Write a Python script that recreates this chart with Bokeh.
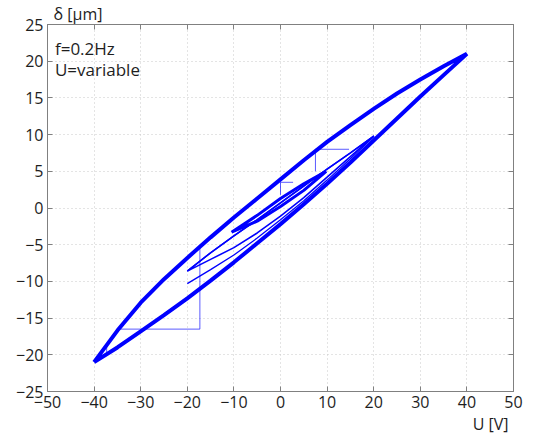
from bokeh.plotting import figure
from bokeh.models import LinearAxis, FixedTicker, Label, Range1d, Title
from bokeh.embed import file_html
from bokeh.resources import INLINE

# ---- data (U in V, delta in um) ----
u40 = [-40, -35, -30, -25, -20, -15, -10, -5, 0, 5, 10, 15, 20, 25, 30, 35, 40]
d40_up = [-21.0, -16.7, -12.9, -9.7, -6.8, -4.0, -1.3, 1.3, 3.9, 6.5, 9.0, 11.3, 13.5, 15.6, 17.5, 19.3, 21.0]
d40_lo = [-21.0, -19.0, -16.8, -14.6, -12.3, -9.9, -7.4, -4.8, -2.2, 0.5, 3.3, 6.2, 9.2, 12.2, 15.2, 18.1, 21.0]

u20 = [-20, -15, -10, -5, 0, 5, 10, 15, 20]
d20_up = [-8.6, -6.1, -3.8, -1.6, 0.7, 3.0, 5.3, 7.5, 9.8]
d20_lo = [-8.6, -7.0, -5.4, -3.4, -1.1, 1.4, 4.2, 7.0, 9.8]
d20b_lo = [-10.3, -8.4, -6.4, -4.1, -1.6, 1.0, 3.8, 6.7, 9.7]

u10 = [-10.5, -5, 0, 5, 9.8]
d10_up = [-3.3, -1.0, 1.3, 3.3, 5.0]
d10_lo = [-3.3, -1.8, 0.2, 2.4, 5.0]

step_a_u = [-34.4, -17.3, -17.3]
step_a_d = [-16.5, -16.5, -5.5]
step_b_u = [-37.3, -37.3]
step_b_d = [-19.7, -18.5]
step_c_u = [14.7, 7.5, 7.5]
step_c_d = [8.0, 8.0, 5.0]
step_d_u = [2.7, 0.0, 0.0]
step_d_d = [3.5, 3.5, 1.8]

x_ticks = [-50, -40, -30, -20, -10, 0, 10, 20, 30, 40, 50]
y_ticks = [-25, -20, -15, -10, -5, 0, 5, 10, 15, 20, 25]

FONT = "Open Sans"
BLUE = "#0000ff"
AXC = "#808080"
TXT = "#1e1e1e"

p = figure(width=530, height=436, x_range=Range1d(-50, 50), y_range=Range1d(-25, 25),
           output_backend="svg", toolbar_location=None,
           min_border_left=47, min_border_right=17, min_border_top=23, min_border_bottom=45)
p.outline_line_color = AXC
p.background_fill_color = "white"
p.border_fill_color = "white"

def minus(v):
    return str(v).replace("-", "\u2212")

for ax in p.xaxis:
    ax.ticker = FixedTicker(ticks=x_ticks)
    ax.major_label_overrides = {v: minus(v) for v in x_ticks}
for ax in p.yaxis:
    ax.ticker = FixedTicker(ticks=y_ticks)
    ax.major_label_overrides = {v: minus(v) for v in y_ticks}

for ax in list(p.xaxis) + list(p.yaxis):
    ax.axis_line_color = AXC
    ax.major_tick_line_color = AXC
    ax.major_tick_in = 5
    ax.major_tick_out = 0
    ax.minor_tick_line_color = None
    ax.major_label_text_font = FONT
    ax.major_label_text_font_size = "16px"
    ax.major_label_text_color = TXT
    ax.major_label_standoff = 4

for loc in ("above", "right"):
    a = LinearAxis(ticker=FixedTicker(ticks=x_ticks if loc == "above" else y_ticks))
    a.axis_line_color = AXC
    a.major_tick_line_color = AXC
    a.major_tick_in = 5
    a.major_tick_out = 0
    a.minor_tick_line_color = None
    a.major_label_text_font_size = "0px"
    a.major_label_text_color = None
    a.major_label_standoff = 0
    p.add_layout(a, loc)

p.xgrid.ticker = FixedTicker(ticks=x_ticks)
p.ygrid.ticker = FixedTicker(ticks=y_ticks)
for g in (p.xgrid, p.ygrid):
    g.grid_line_color = "#c8c8c8"
    g.grid_line_dash = "1 3"
    g.grid_line_width = 1

# loops
p.line(u40 + u40[::-1], d40_lo + d40_up[::-1], line_color=BLUE, line_width=4)
p.line(u20 + u20[::-1], d20_lo + d20_up[::-1], line_color=BLUE, line_width=1.6)
p.line(u20 + u20[::-1], d20b_lo + d20_up[::-1], line_color=BLUE, line_width=1.3)
p.line(u10 + u10[::-1], d10_lo + d10_up[::-1], line_color=BLUE, line_width=3)

for su, sd in ((step_a_u, step_a_d), (step_b_u, step_b_d), (step_c_u, step_c_d), (step_d_u, step_d_d)):
    p.line(su, sd, line_color=BLUE, line_width=1, line_alpha=0.65)

# axis names as titles outside the frame
p.title.text = "\u03b4 [\u03bcm]"
p.title.align = "left"
p.title.offset = 6
p.title.standoff = 0
p.title.text_font = FONT
p.title.text_font_size = "16px"
p.title.text_font_style = "normal"
p.title.text_color = TXT

p.add_layout(Title(text="U [V]", align="right", offset=5, standoff=0, text_font=FONT,
                   text_font_size="16px", text_font_style="normal", text_color=TXT), "below")

p.add_layout(Label(x=-48.4, y=21.7, text="f=0.2Hz", text_font=FONT, text_font_size="17px",
                   text_color=TXT, text_baseline="alphabetic"))
p.add_layout(Label(x=-48.4, y=18.9, text="U=variable", text_font=FONT, text_font_size="17px",
                   text_color=TXT, text_baseline="alphabetic"))

open("out.html", "w").write(file_html(p, INLINE))
